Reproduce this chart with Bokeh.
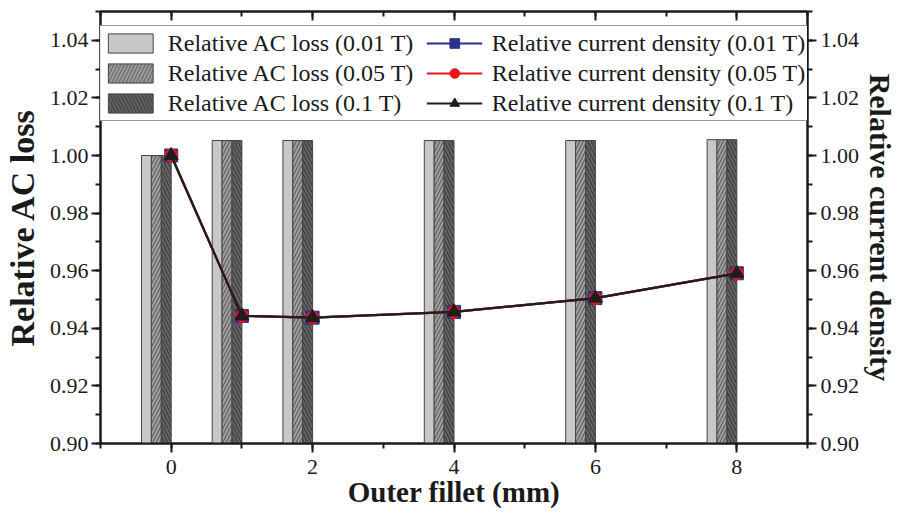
from bokeh.plotting import figure
from bokeh.models import (Range1d, LinearAxis, SingleIntervalTicker, Legend, LegendItem,
                          ColumnDataSource, PrintfTickFormatter, CustomJSTickFormatter)
from bokeh.embed import file_html
from bokeh.resources import INLINE

# ---- data ----
fillet = [0, 1, 2, 4, 6, 8]
ac_loss_001 = [1.000, 1.0052, 1.0052, 1.0052, 1.0052, 1.0055]
ac_loss_005 = [1.000, 1.0052, 1.0052, 1.0052, 1.0052, 1.0055]
ac_loss_01 = [1.000, 1.0052, 1.0052, 1.0052, 1.0052, 1.0055]
cd_001 = [1.000, 0.9443, 0.9437, 0.9457, 0.9505, 0.9591]
cd_005 = [1.000, 0.9443, 0.9437, 0.9457, 0.9505, 0.9591]
cd_01 = [1.000, 0.9443, 0.9437, 0.9457, 0.9505, 0.9591]
bar_labels = ["Relative AC loss (0.01 T)", "Relative AC loss (0.05 T)", "Relative AC loss (0.1 T)"]
line_labels = ["Relative current density (0.01 T)", "Relative current density (0.05 T)",
               "Relative current density (0.1 T)"]

FONT = "Liberation Serif"
BAR_W = 0.14
YMIN, YMAX = 0.90, 1.05

p = figure(width=900, height=514, output_backend="svg", toolbar_location=None,
           x_range=Range1d(-1, 9), y_range=Range1d(YMIN, YMAX),
           min_border_left=100, min_border_right=92, min_border_top=11, min_border_bottom=71)
p.xgrid.visible = False
p.ygrid.visible = False
p.outline_line_color = "#1a1a1a"
p.outline_line_width = 2
p.background_fill_color = "white"

# bars
offsets = [-0.35, -0.21, -0.07]
bar_series = [ac_loss_001, ac_loss_005, ac_loss_01]
bar_fill = ["#c8c8c8", "#a0a0a0", "#646464"]
bar_hatch = [None, "/", "\\"]
bar_hatch_color = [None, "#3a3a3a", "#252525"]
bar_rs = []
for off, vals, fc, hp, hc in zip(offsets, bar_series, bar_fill, bar_hatch, bar_hatch_color):
    src = ColumnDataSource(dict(x=[f + off for f in fillet], top=vals))
    kw = {}
    if hp:
        kw = dict(hatch_pattern=hp, hatch_color=hc, hatch_scale=7, hatch_weight=0.8)
    r = p.vbar(x="x", top="top", bottom=YMIN, width=BAR_W, source=src,
               fill_color=fc, line_color="#444444", line_width=1, **kw)
    bar_rs.append(r)

# lines
line_series = [cd_001, cd_005, cd_01]
line_colors = ["#2b2f8f", "#e8141c", "#1e1e1e"]
markers = ["square", "circle", "triangle"]
msizes = [13, 13, 14]
line_rs = []
for vals, c, m, s in zip(line_series, line_colors, markers, msizes):
    src = ColumnDataSource(dict(x=fillet, y=vals))
    lr = p.line("x", "y", source=src, line_color=c, line_width=2.2)
    sr = p.scatter("x", "y", source=src, marker=m, size=s, fill_color=c, line_color=c)
    line_rs.append((lr, sr))

# axes
def style_axis(ax, title_size="30px"):
    ax.axis_line_width = 2
    ax.axis_line_color = "#1a1a1a"
    ax.major_tick_line_width = 2
    ax.minor_tick_line_width = 2
    ax.major_tick_line_color = "#1a1a1a"
    ax.minor_tick_line_color = "#1a1a1a"
    ax.major_label_text_font = FONT
    ax.major_label_text_font_size = "22px"
    ax.major_label_text_color = "#1a1a1a"
    ax.axis_label_text_font = FONT
    ax.axis_label_text_font_size = title_size
    ax.axis_label_text_font_style = "bold"
    ax.axis_label_text_color = "#1a1a1a"

xa = p.xaxis[0]
xa.ticker = SingleIntervalTicker(interval=2, num_minor_ticks=2)
xa.axis_label = "Outer fillet (mm)"
style_axis(xa, "29px")
xa.major_tick_in = 0
xa.major_tick_out = 9
xa.minor_tick_in = 0
xa.minor_tick_out = 5
xa.major_label_standoff = 7
xa.axis_label_standoff = -1

ya = p.yaxis[0]
ya.ticker = SingleIntervalTicker(interval=0.02, num_minor_ticks=2)
ya.axis_label = "Relative AC loss"
style_axis(ya, "34px")
ya.major_tick_in = 0
ya.major_tick_out = 9
ya.minor_tick_in = 0
ya.minor_tick_out = 5
ya.major_label_standoff = 3
ya.axis_label_standoff = 6
ya.formatter = PrintfTickFormatter(format="%.2f")

p.extra_y_ranges = {"right": Range1d(YMIN, YMAX)}
ra = LinearAxis(y_range_name="right",
                ticker=SingleIntervalTicker(interval=0.02, num_minor_ticks=2),
                formatter=PrintfTickFormatter(format="%.2f"),
                axis_label="Relative current density")
style_axis(ra, "30px")
ra.major_tick_in = 0
ra.major_tick_out = 9
ra.minor_tick_in = 0
ra.minor_tick_out = 5
ra.major_label_standoff = 4
ra.axis_label_standoff = 2
p.add_layout(ra, "right")

ta = LinearAxis(ticker=SingleIntervalTicker(interval=2, num_minor_ticks=2),
                formatter=CustomJSTickFormatter(code="return ''"))
style_axis(ta)
ta.major_tick_in = 9
ta.major_tick_out = 0
ta.minor_tick_in = 5
ta.minor_tick_out = 0
ta.major_label_standoff = 0
p.add_layout(ta, "above")

# legend
items = []
for lab, r in zip(bar_labels, bar_rs):
    items.append(LegendItem(label=lab, renderers=[r]))
for lab, (lr, sr) in zip(line_labels, line_rs):
    items.append(LegendItem(label=lab, renderers=[lr, sr]))

leg = Legend(items=items, location="top_center", ncols=2, margin=14,
             glyph_width=56, glyph_height=24, label_text_font=FONT,
             label_text_font_size="24px", label_text_color="#1a1a1a",
             label_standoff=10, label_width=258, label_height=30, spacing=0, padding=2,
             border_line_color="#333333", border_line_width=1,
             background_fill_alpha=1.0)
p.add_layout(leg, "center")

open("out.html", "w").write(file_html(p, INLINE))
